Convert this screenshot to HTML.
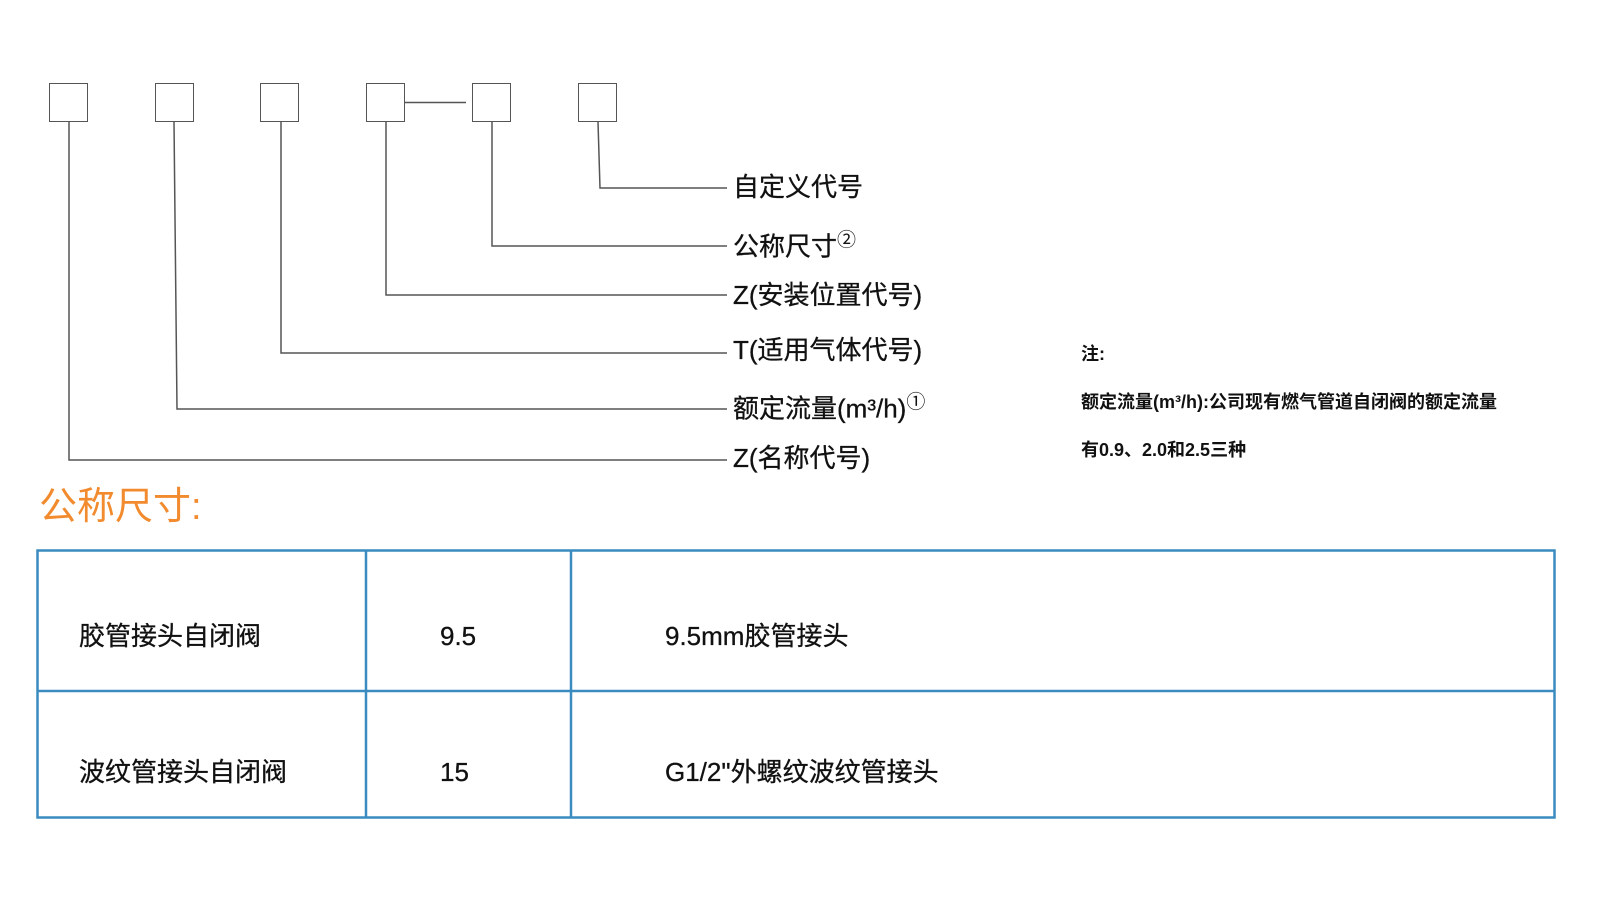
<!DOCTYPE html>
<html><head><meta charset="utf-8"><style>
body{margin:0;width:1600px;height:900px;background:#fff;position:relative;overflow:hidden;font-family:"Liberation Sans","Noto Sans CJK SC",sans-serif;color:#111}
.b{position:absolute;width:39px;height:39px;border:1.5px solid #555;box-sizing:border-box}
.l{position:absolute;font-size:26px;line-height:30px;white-space:nowrap;-webkit-text-stroke:0.3px #111}
.n{position:absolute;font-size:18px;font-weight:bold;white-space:nowrap}
.t{position:absolute;font-size:26px;white-space:nowrap;line-height:30px;-webkit-text-stroke:0.3px #111}
sup{font-size:19px;-webkit-text-stroke:0}
</style></head><body>
<div class="b" style="left:49px;top:83px"></div>
<div class="b" style="left:155px;top:83px"></div>
<div class="b" style="left:260px;top:83px"></div>
<div class="b" style="left:366px;top:83px"></div>
<div class="b" style="left:472px;top:83px"></div>
<div class="b" style="left:578px;top:83px"></div>
<svg style="position:absolute;left:0;top:0" width="1600" height="900">
<g stroke="#555" stroke-width="1.5" fill="none">
<line x1="405" y1="102.5" x2="466" y2="102.5"/>
<polyline points="69,122 69,460 727,460"/>
<polyline points="174,122 177,409 727,409"/>
<polyline points="281,122 281,353 727,353"/>
<polyline points="386,122 386,295 727,295"/>
<polyline points="492,122 492,246 727,246"/>
<polyline points="598,122 600,188 727,188"/>
</g>
<rect x="37.5" y="550.5" width="1517" height="267" fill="none" stroke="#3a8cc0" stroke-width="2.5"/>
<line x1="37" y1="691" x2="1555" y2="691" stroke="#3a8cc0" stroke-width="2.5"/>
<line x1="366" y1="550" x2="366" y2="818" stroke="#3a8cc0" stroke-width="2.5"/>
<line x1="571" y1="550" x2="571" y2="818" stroke="#3a8cc0" stroke-width="2.5"/>
</svg>
<div class="l" style="left:733px;top:172px">自定义代号</div>
<div class="l" style="left:733px;top:226px">公称尺寸<sup>②</sup></div>
<div class="l" style="left:733px;top:280px">Z(安装位置代号)</div>
<div class="l" style="left:733px;top:335px">T(适用气体代号)</div>
<div class="l" style="left:733px;top:388px">额定流量(m³/h)<sup>①</sup></div>
<div class="l" style="left:733px;top:443px">Z(名称代号)</div>
<div class="n" style="left:1081px;top:340px">注:</div>
<div class="n" style="left:1081px;top:388px">额定流量(m³/h):公司现有燃气管道自闭阀的额定流量</div>
<div class="n" style="left:1081px;top:436px">有0.9、2.0和2.5三种</div>
<div style="position:absolute;left:39px;top:484px;font-size:38px;color:#f28a2e;line-height:46px">公称尺寸:</div>
<div class="t" style="left:79px;top:621px">胶管接头自闭阀</div>
<div class="t" style="left:440px;top:621px">9.5</div>
<div class="t" style="left:665px;top:621px">9.5mm胶管接头</div>
<div class="t" style="left:79px;top:757px">波纹管接头自闭阀</div>
<div class="t" style="left:440px;top:757px">15</div>
<div class="t" style="left:665px;top:757px">G1/2"外螺纹波纹管接头</div>
</body></html>
